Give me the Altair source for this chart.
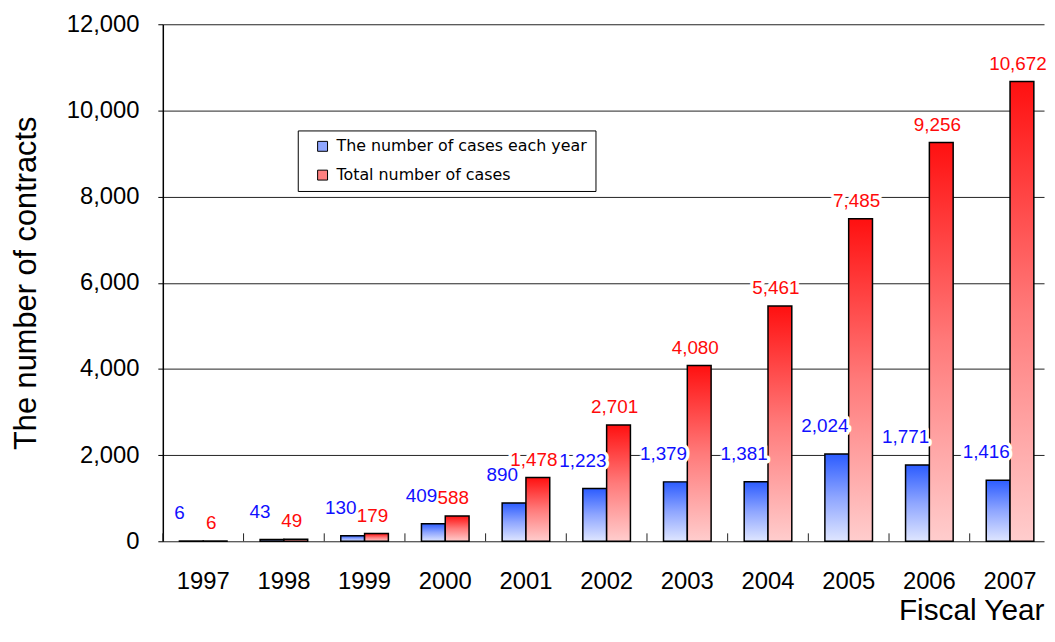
import altair as alt
import pandas as pd

# ---- data ----
years = ["1997", "1998", "1999", "2000", "2001", "2002", "2003", "2004", "2005", "2006", "2007"]
cases_each_year = [6, 43, 130, 409, 890, 1223, 1379, 1381, 2024, 1771, 1416]
cases_total = [6, 49, 179, 588, 1478, 2701, 4080, 5461, 7485, 9256, 10672]
series_names = ["The number of cases each year", "Total number of cases"]
y_ticks = [0, 2000, 4000, 6000, 8000, 10000, 12000]

rows = []
for yr, a, b in zip(years, cases_each_year, cases_total):
    rows.append({"year": yr, "series": series_names[0], "value": a})
    rows.append({"year": yr, "series": series_names[1], "value": b})
df = pd.DataFrame(rows)
df_years = pd.DataFrame({"year": years})

W, H = 888, 521
FONT = "Liberation Sans"
P_INNER = 0.41
P_OUTER = 0.166
STEP = W / (len(years) - P_INNER + 2 * P_OUTER)

grad_blue = alt.LinearGradient(
    gradient="linear",
    stops=[alt.GradientStop(color="#2c5cff", offset=0),
           alt.GradientStop(color="#8fa6ff", offset=0.5),
           alt.GradientStop(color="#dfe6ff", offset=1)],
    x1=0, x2=0, y1=0, y2=1)
grad_red = alt.LinearGradient(
    gradient="linear",
    stops=[alt.GradientStop(color="#ff1010", offset=0),
           alt.GradientStop(color="#ff7a7a", offset=0.5),
           alt.GradientStop(color="#ffcdcd", offset=1)],
    x1=0, x2=0, y1=0, y2=1)

x_axis = alt.Axis(
    orient="bottom", domain=False, grid=False, ticks=False, tickSize=0,
    labelAngle=0, labelFont=FONT, labelFontSize=24, labelColor="black",
    labelPadding=29,
    titleFont=FONT, titleFontSize=30, titleFontWeight="normal", titleColor="black",
    titleAnchor="end", titleAlign="right", titleBaseline="alphabetic",
    titleX=W, titleY=79,
)
x_scale = alt.Scale(paddingInner=P_INNER, paddingOuter=P_OUTER, align=0.62)


def make_x(**kw):
    return alt.X("year:N", sort=years, scale=x_scale, title="Fiscal Year", axis=x_axis, **kw)


xoff_enc = alt.XOffset("series:N", sort=series_names,
                       scale=alt.Scale(domain=series_names, paddingInner=0, paddingOuter=0))
y_enc = alt.Y(
    "value:Q",
    scale=alt.Scale(domain=[0, 12000], nice=False, zero=True),
    title="The number of contracts",
    axis=alt.Axis(
        values=y_ticks, format=",d",
        domain=True, domainColor="black", domainWidth=1.5,
        ticks=True, tickSize=5, tickColor="black", tickWidth=1,
        grid=True, gridColor="#222", gridWidth=1,
        labelFont=FONT, labelFontSize=24, labelColor="black", labelPadding=19,
        titleFont=FONT, titleFontSize=31, titleFontWeight="normal", titleColor="black",
        titlePadding=24,
    ),
)

base = alt.Chart(df).encode(x=make_x(), xOffset=xoff_enc, y=y_enc)

blue = base.transform_filter(alt.datum.series == series_names[0])
red = base.transform_filter(alt.datum.series == series_names[1])

blue_bars = blue.mark_bar(fill=grad_blue, stroke="black", strokeWidth=1.5)
red_bars = red.mark_bar(fill=grad_red, stroke="black", strokeWidth=1.5)


def labels(layer, color, dx, dy):
    halo = layer.mark_text(font=FONT, fontSize=19, dx=dx, dy=dy, baseline="middle",
                           fill="white", stroke="white", strokeWidth=7,
                           strokeJoin="round").encode(text=alt.Text("value:Q", format=","))
    txt = layer.mark_text(font=FONT, fontSize=19, dx=dx, dy=dy, baseline="middle",
                          fill=color).encode(text=alt.Text("value:Q", format=","))
    return halo, txt


bh, bt = labels(blue, "#1010ff", -12, -28)
rh, rt = labels(red, "#ff0a0a", -4, -18)

# short inward ticks at the category boundaries
cat_ticks = alt.Chart(df_years).mark_rule(
    color="#222", strokeWidth=1, xOffset=-P_INNER * STEP / 2
).encode(
    x=make_x(bandPosition=0),
    y=alt.value(H - 8),
    y2=alt.value(H),
)

legend_layer = base.mark_square(opacity=0, filled=True).encode(
    color=alt.Color(
        "series:N", sort=series_names,
        scale=alt.Scale(domain=series_names, range=["#8fa6ff", "#ff8080"]),
        legend=alt.Legend(
            title=None, orient="none", legendX=136, legendY=107,
            direction="vertical", fillColor="white", strokeColor="black",
            padding=8, symbolType="square", symbolSize=100, symbolOffset=9,
            symbolOpacity=1, symbolStrokeColor="black", symbolStrokeWidth=1,
            labelFont="DejaVu Sans", labelFontSize=16, labelColor="black",
            labelOffset=6, rowPadding=13, labelLimit=400,
        ),
    )
)

chart = alt.layer(legend_layer, cat_ticks, blue_bars, red_bars, bh, rh, bt, rt).properties(
    width=W, height=H,
    autosize=alt.AutoSizeParams(type="none"),
    padding={"left": 156, "top": 14, "right": 3, "bottom": 86},
    background="white",
).configure_view(stroke=None)

chart.save("out.html", embed_options={"renderer": "svg", "actions": False})
